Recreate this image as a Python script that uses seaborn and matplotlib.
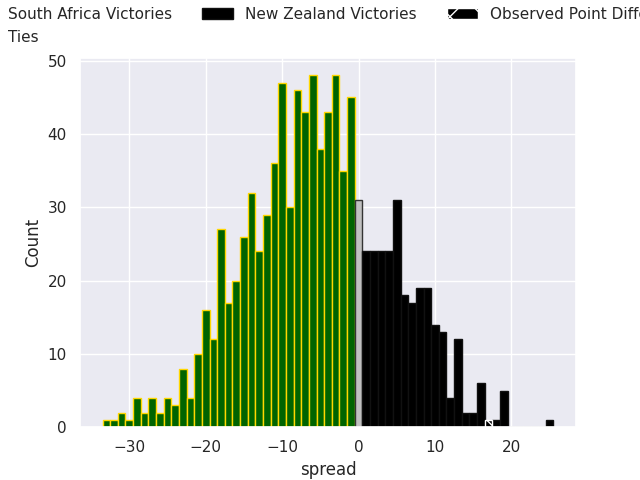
import numpy as np
import pandas as pd
import seaborn as sns
import matplotlib.pyplot as plt

# spread values (point difference) and how many games ended with each
sa_spread = [-33, -32, -31, -30, -29, -28, -27, -26, -25, -24, -23, -22, -21,
             -20, -19, -18, -17, -16, -15, -14, -13, -12, -11, -10, -9, -8,
             -7, -6, -5, -4, -3, -2, -1]
sa_count = [1, 1, 2, 1, 4, 2, 4, 2, 4, 3, 8, 4, 10,
            16, 12, 27, 17, 20, 26, 32, 24, 29, 36, 47, 30, 46,
            43, 48, 38, 43, 48, 35, 45]

tie_spread = [0]
tie_count = [31]

nz_spread = [1, 2, 3, 4, 5, 6, 7, 8, 9, 10, 11, 12, 13, 14, 15, 16, 18, 19, 25]
nz_count = [24, 24, 24, 24, 31, 18, 17, 19, 19, 14, 13, 4, 12, 2, 2, 6, 1, 5, 1]

observed_spread = [17]
observed_count = [1]

sns.set_theme(style="darkgrid")

fig, ax = plt.subplots(figsize=(6.4, 4.8))

sns.histplot(x=sa_spread, weights=sa_count, discrete=True, ax=ax,
             color="darkgreen", edgecolor="gold", linewidth=1, alpha=1,
             label="South Africa Victories")
sns.histplot(x=tie_spread, weights=tie_count, discrete=True, ax=ax,
             color="silver", edgecolor="#333333", linewidth=1, alpha=1,
             label="Ties")
sns.histplot(x=nz_spread, weights=nz_count, discrete=True, ax=ax,
             color="black", edgecolor="#111111", linewidth=1, alpha=1,
             label="New Zealand Victories")
sns.histplot(x=observed_spread, weights=observed_count, discrete=True, ax=ax,
             color="black", edgecolor="white", hatch="x", linewidth=1, alpha=1,
             label="Observed Point Difference")

ax.set_xlabel("spread")
ax.set_ylabel("Count")

# legend sits above the axes and runs off both sides of the figure
ax.legend(loc="upper center", bbox_to_anchor=(0.5, 1.174), ncol=3,
          frameon=False)

fig.savefig("out.png", dpi=100)
